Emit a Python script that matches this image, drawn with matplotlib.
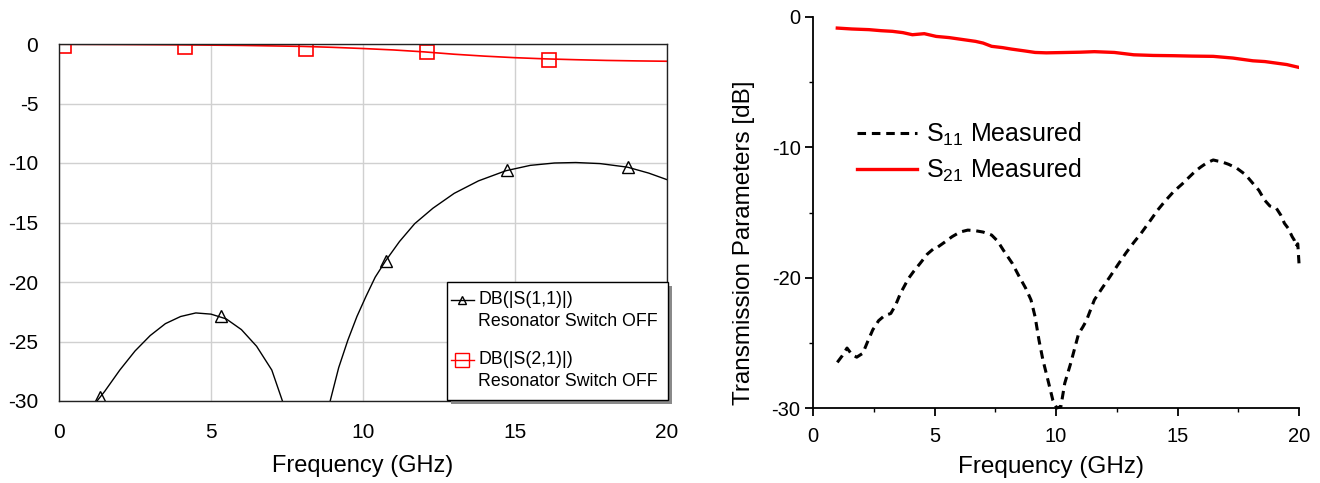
import matplotlib
matplotlib.use("Agg")
import matplotlib.pyplot as plt
from matplotlib.lines import Line2D
from matplotlib.patches import Rectangle
from matplotlib.ticker import MultipleLocator

plt.rcParams['font.family'] = ['Liberation Sans', 'DejaVu Sans']
plt.rcParams['mathtext.fontset'] = 'custom'
plt.rcParams['mathtext.rm'] = 'Liberation Sans'
plt.rcParams['mathtext.it'] = 'Liberation Sans'
plt.rcParams['mathtext.default'] = 'regular'
plt.rcParams['axes.unicode_minus'] = False

# ---------------- Left panel: simulated ----------------
sim_s11_f1 = [1.25, 1.5, 2.0, 2.5, 3.0, 3.5, 4.0, 4.5, 5.0, 5.5, 6.0, 6.5, 7.0, 7.35]
sim_s11_db1 = [-30, -29.2, -27.4, -25.8, -24.5, -23.5, -22.9, -22.6, -22.7, -23.1, -24.0, -25.4, -27.4, -30]
sim_s11_f2 = [8.92, 9.2, 9.5, 9.8, 10.1, 10.4, 10.75, 11.2, 11.7, 12.3, 13.0, 13.8, 14.7, 15.5,
              16.3, 17.0, 17.8, 18.7, 19.4, 20.0]
sim_s11_db2 = [-30, -27.2, -24.9, -22.9, -21.2, -19.6, -18.2, -16.6, -15.1, -13.8, -12.55, -11.5,
               -10.65, -10.2, -10.0, -9.96, -10.05, -10.35, -10.85, -11.4]
sim_s11_mark_f = [1.35, 5.33, 10.75, 14.73, 18.73]
sim_s11_mark_db = [-29.7, -22.86, -18.2, -10.6, -10.33]

sim_s21_f = [0, 2, 4, 6, 8, 9, 10, 11, 12, 13, 14, 15, 16, 17, 18, 19, 20]
sim_s21_db = [-0.02, -0.04, -0.07, -0.12, -0.2, -0.28, -0.38, -0.5, -0.66, -0.86, -1.02, -1.15,
              -1.25, -1.32, -1.38, -1.42, -1.45]
sim_s21_mark_f = [0.15, 4.13, 8.13, 12.12, 16.13]
sim_s21_mark_db = [-0.2, -0.28, -0.42, -0.7, -1.31]

# ---------------- Right panel: measured ----------------
meas_s21_f = [1.0, 1.6, 2.3, 2.8, 3.27, 3.7, 4.09, 4.58, 5.07, 5.6, 6.2, 6.69, 7.0, 7.35, 7.8,
              8.16, 8.7, 9.14, 9.6, 10.2, 11.0, 11.58, 12.4, 13.2, 14.0, 14.84, 15.6, 16.47,
              17.28, 18.1, 18.6, 19.07, 19.5, 20.0]
meas_s21_db = [-0.85, -0.92, -0.97, -1.05, -1.1, -1.2, -1.36, -1.28, -1.49, -1.58, -1.74, -1.87,
               -2.0, -2.25, -2.35, -2.46, -2.6, -2.72, -2.75, -2.73, -2.7, -2.66, -2.72, -2.9,
               -2.95, -2.97, -3.0, -3.02, -3.15, -3.36, -3.42, -3.54, -3.65, -3.87]

meas_s11_f = [1.0, 1.2, 1.4, 1.6, 1.8, 2.05, 2.25, 2.46, 2.7, 2.95, 3.2, 3.4, 3.6, 3.93, 4.15,
              4.41, 4.7, 4.98, 5.06, 5.4, 5.72, 6.05, 6.37, 6.69, 7.0, 7.35, 7.6, 7.83, 8.2,
              8.49, 8.75, 8.97, 9.14, 9.3, 9.46, 9.7, 9.87, 10.03, 10.2, 10.36, 10.6, 10.93,
              11.1, 11.25, 11.58, 11.9, 12.23, 12.55, 12.88, 13.2, 13.5, 13.85, 14.19, 14.5,
              14.84, 15.2, 15.5, 15.75, 15.98, 16.2, 16.47, 16.65, 16.8, 17.1, 17.44, 17.8,
              18.1, 18.35, 18.58, 18.8, 19.07, 19.25, 19.4, 19.55, 19.72, 19.8, 19.88, 19.95, 20.0]
meas_s11_db = [-26.5, -26.0, -25.4, -25.9, -26.1, -25.8, -24.9, -24.0, -23.3, -22.9, -22.75,
               -22.1, -21.2, -20.06, -19.5, -18.9, -18.2, -17.75, -17.75, -17.3, -16.86, -16.5,
               -16.35, -16.4, -16.5, -16.73, -17.2, -17.88, -18.9, -19.93, -20.8, -21.7, -23.0,
               -24.8, -26.3, -28.1, -29.4, -30.0, -29.9, -28.1, -26.6, -24.3, -23.8, -23.3,
               -21.7, -20.8, -19.9, -19.0, -18.1, -17.3, -16.6, -15.7, -14.8, -14.1, -13.4,
               -12.8, -12.25, -11.8, -11.48, -11.2, -10.97, -11.05, -11.1, -11.3, -11.6, -12.1,
               -12.76, -13.3, -14.04, -14.5, -14.68, -15.2, -15.83, -16.2, -16.86, -17.1, -17.6,
               -17.4, -18.9]

x_ticks = [0, 5, 10, 15, 20]
left_y_ticks = [0, -5, -10, -15, -20, -25, -30]
right_y_ticks = [0, -10, -20, -30]

left_legend_titles = ['DB(|S(1,1)|)', 'DB(|S(2,1)|)']
left_legend_sub = 'Resonator Switch OFF'
right_legend_labels = ['S$_{11}$ Measured', 'S$_{21}$ Measured']

W, H = 1320, 483
fig = plt.figure(figsize=(W / 100, H / 100), dpi=100)


def px(x, y):
    return (x / W, 1 - y / H)


# ---- Left ----
ax1 = fig.add_axes([59 / W, 1 - 401 / H, (667 - 59) / W, (401 - 44) / H])
ax1.set_xlim(0, 20)
ax1.set_ylim(-30, 0)
ax1.set_xticks(x_ticks)
ax1.set_yticks(left_y_ticks)
ax1.grid(True, color='#d0d0d0', linewidth=1.0)
ax1.tick_params(length=0, labelsize=15, pad=15)
ax1.tick_params(axis='x', pad=16)
for s in ax1.spines.values():
    s.set_linewidth(1.0)
    s.set_color('#222222')
ax1.plot(sim_s11_f1, sim_s11_db1, color='black', lw=1.0)
ax1.plot(sim_s11_f2, sim_s11_db2, color='black', lw=1.0)
ax1.plot(sim_s11_mark_f, sim_s11_mark_db, ls='none', marker='^', ms=9, mfc='none', mec='black', mew=1.0)
ax1.plot(sim_s21_f, sim_s21_db, color='red', lw=1.2)
ax1.plot(sim_s21_mark_f, sim_s21_mark_db, ls='none', marker='s', ms=10, mfc='none', mec='red', mew=1.2)
ax1.set_xlabel('Frequency (GHz)', fontsize=17, labelpad=9)

# manual legend box (with shadow) for the left panel
x0, y0 = px(447, 400)
x1, y1 = px(668, 282)
fig.patches.append(Rectangle((x0 + 4 / W, y0 - 4 / H), x1 - x0, y1 - y0, transform=fig.transFigure,
                             facecolor='#8a8a8a', edgecolor='none', zorder=5))
fig.patches.append(Rectangle((x0, y0), x1 - x0, y1 - y0, transform=fig.transFigure,
                             facecolor='white', edgecolor='black', lw=1.0, zorder=6))
entries = [('black', '^', 6, 300), ('red', 's', 10, 360)]
for (col, mk, ms, yrow), title in zip(entries, left_legend_titles):
    hx0, hy = px(451, yrow)
    hx1, _ = px(474, yrow)
    fig.add_artist(Line2D([hx0, hx1], [hy, hy], color=col, lw=1.0, transform=fig.transFigure, zorder=7))
    fig.add_artist(Line2D([(hx0 + hx1) / 2], [hy], color=col, marker=mk, ms=ms, mfc='none', mec=col,
                          mew=1.0, transform=fig.transFigure, zorder=7))
    tx, ty = px(478, yrow)
    fig.text(tx, ty, title, fontsize=12.8, va='center', ha='left', zorder=8)
    tx, ty = px(478, yrow + 22)
    fig.text(tx, ty, left_legend_sub, fontsize=12.8, va='center', ha='left', zorder=8)

# ---- Right ----
ax2 = fig.add_axes([813 / W, 1 - 408 / H, (1299 - 813) / W, (408 - 17) / H])
ax2.set_xlim(0, 20)
ax2.set_ylim(-30, 0)
ax2.set_xticks(x_ticks)
ax2.set_yticks(right_y_ticks)
ax2.xaxis.set_minor_locator(MultipleLocator(2.5))
ax2.yaxis.set_minor_locator(MultipleLocator(5))
ax2.spines['top'].set_visible(False)
ax2.spines['right'].set_visible(False)
for s in ('left', 'bottom'):
    ax2.spines[s].set_linewidth(1.3)
ax2.tick_params(which='major', direction='out', length=6, width=1.3, labelsize=14.5)
ax2.tick_params(axis='y', which='major', pad=3)
ax2.tick_params(axis='x', which='major', pad=8)
ax2.tick_params(which='minor', direction='out', length=3, width=1.0)
l1, = ax2.plot(meas_s11_f, meas_s11_db, color='black', lw=2.2, ls=(0, (2.8, 1.9)), clip_on=False)
l2, = ax2.plot(meas_s21_f, meas_s21_db, color='red', lw=2.4)
ax2.set_xlabel('Frequency (GHz)', fontsize=17.5)
ax2.xaxis.set_label_coords((1051 - 813) / 486, (408 - 478) / 391)
ax2.xaxis.label.set_va('bottom')
ax2.set_ylabel('Transmission Parameters [dB]', fontsize=17.5)
ax2.yaxis.set_label_coords((755 - 813) / 486, (408 - 243) / 391)
ax2.legend([l1, l2], right_legend_labels, loc='center left',
           bbox_to_anchor=((857 - 813) / 486, (408 - 152) / 391), frameon=False, fontsize=18,
           handlelength=2.4, handletextpad=0.36, labelspacing=0.35, borderpad=0, borderaxespad=0)

fig.savefig('out.png', dpi=100)
